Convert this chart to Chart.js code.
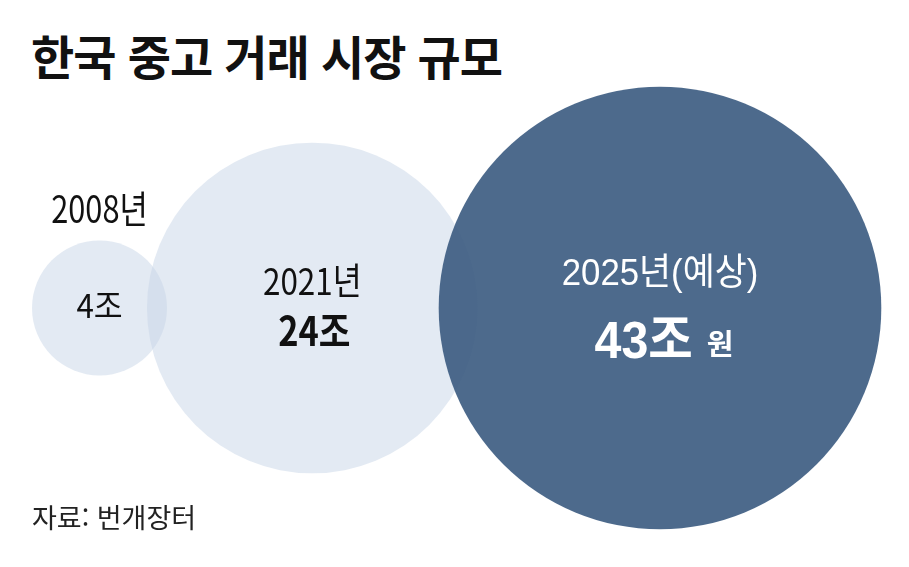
<!DOCTYPE html>
<html lang="ko">
<head>
    <meta charset="UTF-8">
    <title>한국 중고 거래 시장 규모</title>
    <style>
        body {
            margin: 0;
            background-color: #ffffff;
            font-family: "Noto Sans CJK KR", sans-serif;
        }

        .wrap {
            position: relative;
            width: 909px;
            height: 567px;
            overflow: hidden;
        }

        #bubbleChart {
            position: absolute;
            left: 0;
            top: 0;
        }

        .title {
            position: absolute;
            left: 31px;
            top: 31px;
            font-size: 47px;
            font-weight: bold;
            line-height: 1;
            letter-spacing: -1px;
            color: #111111;
            white-space: nowrap;
        }

        .source {
            position: absolute;
            left: 32px;
            top: 503px;
            font-size: 27px;
            line-height: 1;
            color: #222222;
            white-space: nowrap;
        }
    </style>
</head>
<body>
    <div class="wrap">
        <div class="title">한국 중고 거래 시장 규모</div>
        <canvas id="bubbleChart" width="909" height="567"></canvas>
        <div class="source">자료: 번개장터</div>
    </div>
    <script src="https://cdn.jsdelivr.net/npm/chart.js"></script>
    <script>
        // 데이터
        const years = ['2008년', '2021년', '2025년(예상)'];
        const values = [4, 24, 43];            // 조 원
        const valueLabels = ['4조', '24조', '43조'];
        const unitLabel = '원';

        // 레이아웃 (픽셀)
        const W = 909, H = 567;
        const RADIUS_K = 33.75;                // 면적 ~ 값
        const START_LEFT = 32;
        const CENTER_Y = 308;
        const OVERLAP = [20, 39];

        const radii = values.map(v => RADIUS_K * Math.sqrt(v));
        const centersX = [];
        radii.forEach((r, i) => {
            if (i === 0) centersX.push(START_LEFT + r);
            else centersX.push(centersX[i - 1] + radii[i - 1] + r - OVERLAP[i - 1]);
        });
        const bubbles = values.map((v, i) => ({ x: centersX[i], y: CENTER_Y, r: radii[i] }));

        const cjk = "'Noto Sans CJK KR'";
        const latin = "'Liberation Sans', 'Noto Sans CJK KR'";

        // 가로로 조금 좁힌 글자 (원본 글꼴이 좁음)
        function drawText(ctx, text, x, y, font, sx, align) {
            ctx.save();
            ctx.font = font;
            ctx.textAlign = align || 'center';
            ctx.translate(x, y);
            ctx.scale(sx, 1);
            ctx.fillText(text, 0, 0);
            ctx.restore();
        }

        // 원 안의 글자
        const labelPlugin = {
            id: 'bubbleLabels',
            afterDatasetsDraw(chart) {
                const ctx = chart.ctx;
                const pts = chart.getDatasetMeta(0).data;
                ctx.save();
                ctx.textBaseline = 'alphabetic';

                // 2008
                let p = pts[0];
                ctx.fillStyle = '#111111';
                drawText(ctx, years[0], p.x, p.y - radii[0] - 18, '38px ' + cjk, 0.81);
                drawText(ctx, valueLabels[0], p.x, p.y + 10, '33px ' + cjk, 0.95);

                // 2021
                p = pts[1];
                drawText(ctx, years[1], p.x, p.y - 13, '37px ' + cjk, 0.85);
                drawText(ctx, valueLabels[1], p.x + 2, p.y + 38, 'bold 40px ' + cjk, 0.86);

                // 2025
                p = pts[2];
                ctx.fillStyle = '#ffffff';
                drawText(ctx, years[2], p.x, p.y - 23, '37px ' + latin, 0.94);

                const bigFont = 'bold 52px ' + latin;
                const smallFont = 'bold 29px ' + latin;
                const bigScale = 0.93;
                ctx.font = bigFont;
                const w1 = ctx.measureText(valueLabels[2]).width * bigScale;
                ctx.font = smallFont;
                const gap = 14;
                const w2 = ctx.measureText(unitLabel).width;
                const left = p.x + 4 - (w1 + gap + w2) / 2;
                drawText(ctx, valueLabels[2], left, p.y + 50, bigFont, bigScale, 'left');
                drawText(ctx, unitLabel, left + w1 + gap, p.y + 47, smallFont, 1, 'left');
                ctx.restore();
            }
        };

        const chart = new Chart(document.getElementById('bubbleChart'), {
            type: 'bubble',
            data: {
                labels: years,
                datasets: [{
                    label: '중고 거래 시장 규모',
                    data: bubbles,
                    backgroundColor: [
                        'rgba(200, 213, 232, 0.5)',
                        'rgba(200, 213, 232, 0.5)',
                        'rgba(62, 93, 130, 0.92)'
                    ],
                    borderWidth: 0,
                    hoverRadius: 0,
                    clip: false
                }]
            },
            options: {
                responsive: false,
                animation: false,
                events: [],
                layout: { padding: 0, autoPadding: false },
                plugins: {
                    legend: { display: false },
                    tooltip: { enabled: false },
                    title: { display: false }
                },
                scales: {
                    x: { type: 'linear', display: false, min: 0, max: W },
                    y: { type: 'linear', display: false, min: 0, max: H, reverse: true }
                }
            },
            plugins: [labelPlugin]
        });
    </script>
</body>
</html>
